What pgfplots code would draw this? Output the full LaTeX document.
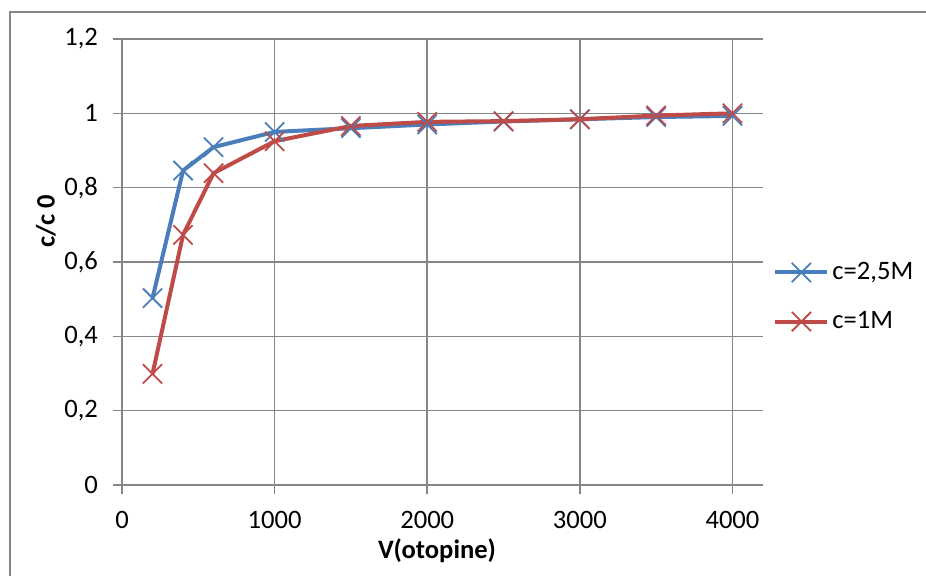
\documentclass[border=0pt]{standalone}
\usepackage{fontspec}
\setmainfont{Carlito}
\usepackage{pgfplots}
\pgfplotsset{compat=1.18}
\definecolor{blueS}{HTML}{4A7EBB}
\definecolor{redS}{HTML}{BE4B48}
\definecolor{gridc}{HTML}{868686}
\begin{document}
\fontsize{13}{15.6}\selectfont
\begin{tikzpicture}
\useasboundingbox (0,0) rectangle (463pt,288pt);
\draw[gridc, line width=0.75pt] (5pt,0) -- (5pt,282pt) -- (463pt,282pt);
\begin{axis}[
  at={(61pt,45.5pt)}, anchor=south west,
  scale only axis, width=320.5pt, height=223pt,
  xmin=0, xmax=4200, ymin=0, ymax=1.2,
  xtick={0,1000,2000,3000,4000},
  ytick={0,0.2,0.4,0.6,0.8,1,1.2},
  axis x line*=bottom, axis y line*=left,
  axis line style={gridc, line width=0.75pt, -},
  tick style={gridc, line width=0.75pt},
  tick align=outside, major tick length=4.5pt,
  grid=major, major grid style={gridc, line width=0.75pt},
  /pgf/number format/assume math mode=true,
  /pgf/number format/use comma,
  /pgf/number format/1000 sep={},
  scaled x ticks=false, scaled y ticks=false,
  ticklabel style={font=\fontsize{13.3}{16}\selectfont, text=black},
  yticklabel style={xshift=-3pt},
  xticklabel style={yshift=-4pt},
  xlabel={\textbf{V(otopine)}},
  ylabel={\textbf{c/c 0}},
  xlabel style={at={(axis description cs:0.4914,-0.148)}, anchor=center, font=\fontsize{13.3}{16}\selectfont},
  ylabel style={at={(axis description cs:-0.1186,0.592)}, anchor=center, font=\fontsize{13.3}{16}\selectfont},
  legend style={at={(axis description cs:1.0156,0.4215)}, anchor=west, draw=none, fill=none,
    font=\fontsize{13.3}{16}\selectfont, row sep=11pt, inner sep=0pt,
    nodes={inner sep=1.5pt}},
  legend cell align=left,
  legend image code/.code={\draw[mark repeat=2,mark phase=2,#1] plot coordinates {(0pt,0pt) (13pt,0pt) (26pt,0pt)};},
]
\addplot[blueS, line width=2pt, mark=x, mark size=6.8pt, mark options={line width=0.9pt}] coordinates {
(200,0.503) (400,0.846) (600,0.909) (1000,0.950) (1500,0.960) (2000,0.970) (2500,0.978) (3000,0.984) (3500,0.990) (4000,0.993)
};
\addlegendentry{c=2,5M}
\addplot[redS, line width=2pt, mark=x, mark size=6.8pt, mark options={line width=0.9pt}] coordinates {
(200,0.299) (400,0.673) (600,0.839) (1000,0.925) (1500,0.966) (2000,0.977) (2500,0.979) (3000,0.984) (3500,0.994) (4000,1.000)
};
\addlegendentry{c=1M}
\end{axis}
\end{tikzpicture}
\end{document}
